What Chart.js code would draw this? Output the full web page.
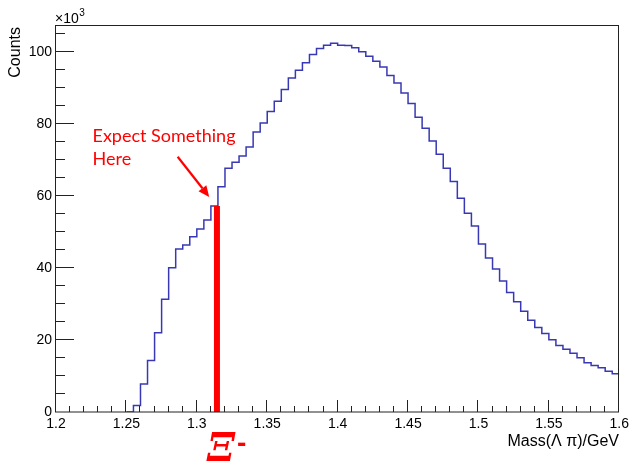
<!DOCTYPE html>
<html>
<head>
<meta charset="utf-8">
<script src="https://cdn.jsdelivr.net/npm/chart.js@4/dist/chart.umd.min.js"></script>
<style>
  html, body { margin: 0; padding: 0; background: #fff; }
  #wrap { width: 633px; height: 468px; }
</style>
</head>
<body>
<div id="wrap"><canvas id="c" width="633" height="468"></canvas></div>
<script>
// ---- Data (counts in units of 10^3) ----
const binStart = 1.2;
const binWidth = 0.005;
const counts = [
  0, 0, 0, 0, 0, 0, 0, 0, 0, 0, 0,
  1.8, 7.8, 14.3, 22.0, 31.3, 40.1, 45.3, 46.4, 48.7, 50.8,
  53.3, 57.2, 62.6, 67.7, 69.4, 71.1, 73.6, 77.8, 80.3, 83.5,
  86.3, 89.6, 92.8, 94.9, 97.0, 99.3, 101.0, 101.9, 102.4, 101.9,
  101.8, 101.2, 100.1, 98.8, 97.4, 95.8, 93.5, 91.4, 88.6, 85.7,
  81.9, 78.8, 75.3, 71.6, 67.7, 64.0, 59.4, 55.2, 51.7, 46.7,
  42.8, 39.7, 36.4, 33.2, 30.6, 28.0, 25.5, 23.5, 21.8, 20.1,
  18.5, 17.4, 16.3, 15.1, 13.7, 12.9, 12.3, 11.3, 10.6
];
const xTickValues = [1.2, 1.25, 1.3, 1.35, 1.4, 1.45, 1.5, 1.55, 1.6];
const yTickValues = [0, 20, 40, 60, 80, 100];

// Annotation marker (red bar) and arrow
const markerX = 1.3143;
const markerY = 57.2;
const arrowFrom = { x: 1.2864, y: 70.9 };
const arrowTo = { x: 1.3088, y: 59.75 };
const noteLines = ["Expect Something", "Here"];
const xTitle = "Mass(\u039B \u03C0)/GeV";
const yTitle = "Counts";
const particleLabel = "\u039E";

// Build step points from bin edges
const histPoints = counts.map((v, i) => ({ x: binStart + i * binWidth, y: v }));
histPoints.push({ x: binStart + counts.length * binWidth, y: counts[counts.length - 1] });

const FONT = "'Liberation Sans', Arial, sans-serif";
const HIST_COLOR = '#3838b4';

const decor = {
  id: 'decor',
  afterDraw(chart) {
    const ctx = chart.ctx;
    const xs = chart.scales.x, ys = chart.scales.y;
    const a = chart.chartArea;
    ctx.save();
    // frame
    ctx.strokeStyle = '#222';
    ctx.lineWidth = 1;
    ctx.strokeRect(Math.round(a.left) - 0.5, Math.round(a.top) + 0.5,
                   Math.round(a.right - a.left), Math.round(a.bottom - a.top) - 0.5);
    // x ticks (inward)
    ctx.beginPath();
    for (let i = 1; i < 40; i++) {
      const v = 1.2 + i * 0.01;
      const px = Math.round(xs.getPixelForValue(v)) - 0.5;
      const len = (i % 5 === 0) ? 12 : 6;
      ctx.moveTo(px, a.bottom);
      ctx.lineTo(px, a.bottom - len);
    }
    // y ticks (inward)
    for (let i = 1; i <= 21; i++) {
      const v = i * 5;
      const py = Math.round(ys.getPixelForValue(v)) - 0.5;
      const len = (i % 4 === 0) ? 18 : 9;
      ctx.moveTo(a.left, py);
      ctx.lineTo(a.left + len, py);
    }
    ctx.stroke();

    // axis titles
    ctx.fillStyle = '#000';
    ctx.font = '16px ' + FONT;
    ctx.textAlign = 'right';
    ctx.textBaseline = 'middle';
    ctx.fillText(xTitle, 619, 442);

    ctx.save();
    ctx.translate(16, a.top + 2);
    ctx.rotate(-Math.PI / 2);
    ctx.textAlign = 'right';
    ctx.textBaseline = 'middle';
    ctx.font = '16px ' + FONT;
    ctx.fillText(yTitle, 0, 0);
    ctx.restore();

    // x10^3
    ctx.textAlign = 'left';
    ctx.textBaseline = 'alphabetic';
    ctx.font = '14px ' + FONT;
    ctx.fillText('\u00D710', 55, 23);
    const w = ctx.measureText('\u00D710').width;
    ctx.font = '10px ' + FONT;
    ctx.fillText('3', 55 + w + 0.5, 16);

    // annotation text
    ctx.fillStyle = '#ff0000';
    ctx.font = '18px Lato, "Open Sans", sans-serif';
    ctx.textAlign = 'left';
    ctx.fillText(noteLines[0], 92.5, 141.5);
    ctx.fillText(noteLines[1], 92.5, 165);

    // arrow
    const x1 = xs.getPixelForValue(arrowFrom.x), y1 = ys.getPixelForValue(arrowFrom.y);
    const x2 = xs.getPixelForValue(arrowTo.x), y2 = ys.getPixelForValue(arrowTo.y);
    const ang = Math.atan2(y2 - y1, x2 - x1);
    const hl = 11, hw = 5;
    const bx = x2 - hl * Math.cos(ang), by = y2 - hl * Math.sin(ang);
    ctx.strokeStyle = '#ff0000';
    ctx.lineWidth = 2.2;
    ctx.beginPath();
    ctx.moveTo(x1, y1);
    ctx.lineTo(bx, by);
    ctx.stroke();
    ctx.beginPath();
    ctx.moveTo(x2, y2);
    ctx.lineTo(bx + hw * Math.sin(ang), by - hw * Math.cos(ang));
    ctx.lineTo(bx - hw * Math.sin(ang), by + hw * Math.cos(ang));
    ctx.closePath();
    ctx.fill();

    // particle label
    const mx = xs.getPixelForValue(markerX);
    ctx.font = 'italic bold 40px "DejaVu Serif", serif';
    ctx.textAlign = 'center';
    ctx.textBaseline = 'alphabetic';
    ctx.fillText(particleLabel, mx + 4, 461);
    ctx.font = 'bold 28px ' + FONT;
    ctx.textAlign = 'left';
    ctx.fillText('-', mx + 20, 452);
    ctx.restore();
  }
};

new Chart(document.getElementById('c'), {
  type: 'line',
  data: {
    datasets: [
      {
        label: 'marker',
        data: [{ x: markerX, y: 0 }, { x: markerX, y: markerY }],
        borderColor: '#ff0000',
        borderWidth: 6,
        borderCapStyle: 'butt',
        pointRadius: 0,
        fill: false
      },
      {
        label: 'hist',
        data: histPoints,
        stepped: 'before',
        borderColor: HIST_COLOR,
        segment: {
          borderColor: c => (c.p0.parsed.y === 0 && c.p1.parsed.y === 0) ? 'rgba(0,0,0,0)' : HIST_COLOR
        },
        borderWidth: 1.5,
        pointRadius: 0,
        fill: false
      }
    ]
  },
  plugins: [decor],
  options: {
    responsive: false,
    animation: false,
    events: [],
    layout: { padding: { left: 0, top: 25, right: 11, bottom: 0 } },
    plugins: { legend: { display: false }, tooltip: { enabled: false } },
    scales: {
      x: {
        type: 'linear',
        min: 1.2, max: 1.6,
        grid: { display: false, drawTicks: false },
        border: { display: false },
        afterFit(s) { s.height = 56; },
        afterBuildTicks(s) { s.ticks = xTickValues.map(v => ({ value: v })); },
        ticks: {
          padding: 4,
          color: '#000',
          font: { family: FONT, size: 14 },
          maxRotation: 0,
          autoSkip: false,
          callback: v => String(Math.round(v * 100) / 100)
        }
      },
      y: {
        min: 0, max: 107.5,
        grid: { display: false, drawTicks: false },
        border: { display: false },
        afterFit(s) { s.width = 56; },
        afterBuildTicks(s) { s.ticks = yTickValues.map(v => ({ value: v })); },
        ticks: {
          padding: 4,
          color: '#000',
          font: { family: FONT, size: 14 },
          callback: v => String(v)
        }
      }
    }
  }
});
</script>
</body>
</html>
